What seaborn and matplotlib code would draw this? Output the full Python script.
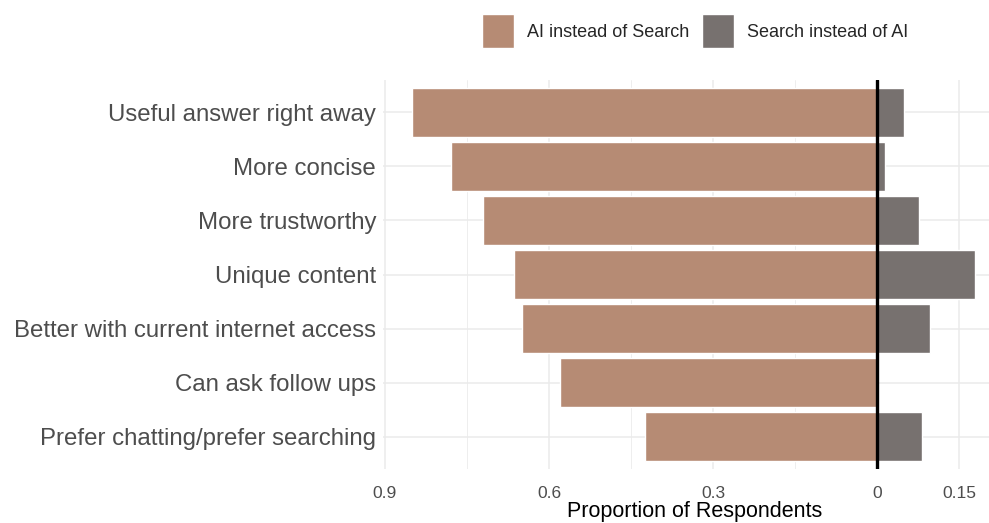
import pandas as pd
import seaborn as sns
import matplotlib.pyplot as plt
from matplotlib.patches import Patch

# Reasons (top to bottom) and proportions
reasons = [
    "Useful answer right away",
    "More concise",
    "More trustworthy",
    "Unique content",
    "Better with current internet access",
    "Can ask follow ups",
    "Prefer chatting/prefer searching",
]
ai_instead_of_search = [0.85, 0.78, 0.72, 0.664, 0.65, 0.58, 0.424]
search_instead_of_ai = [0.05, 0.015, 0.077, 0.18, 0.097, 0.0, 0.083]

series_names = ["AI instead of Search", "Search instead of AI"]
colors = {"AI instead of Search": "#B68B74", "Search instead of AI": "#77716F"}

tick_pos = [-0.9, -0.6, -0.3, 0, 0.15]
tick_labels = ["0.9", "0.6", "0.3", "0", "0.15"]

# Long table, AI side plotted as negative values
df = pd.concat([
    pd.DataFrame({"reason": reasons, "value": [-v for v in ai_instead_of_search],
                  "direction": series_names[0]}),
    pd.DataFrame({"reason": reasons, "value": search_instead_of_ai,
                  "direction": series_names[1]}),
])

sns.set_style("white")
plt.rcParams['font.family'] = ['Liberation Sans', 'DejaVu Sans']

fig = plt.figure(figsize=(9.89, 5.23), dpi=100)
ax = fig.add_axes([383 / 989, 1 - 469 / 523, 606 / 989, (469 - 80) / 523])

sns.barplot(data=df, y="reason", x="value", hue="direction", order=reasons,
            hue_order=series_names, palette=colors, dodge=False, width=0.9,
            saturation=1, legend=False, ax=ax, zorder=2)

# gridlines like ggplot minimal
for x in tick_pos:
    ax.axvline(x, color="#EBEBEB", lw=1.1, zorder=0)
for x in [-0.75, -0.45, -0.15]:
    ax.axvline(x, color="#EBEBEB", lw=0.6, zorder=0)
for y in range(len(reasons)):
    ax.axhline(y, color="#EBEBEB", lw=1.1, zorder=0)

ax.axvline(0, color="black", lw=2.4, zorder=3)

ax.set_xlim(-0.9036, 0.205)
ax.set_ylim(len(reasons) - 0.4, -0.6)
ax.set_xticks(tick_pos)
ax.set_xticklabels(tick_labels, fontsize=12.5, color="#4D4D4D")
ax.tick_params(axis="y", labelsize=17.3, labelcolor="#4D4D4D", length=0, pad=5)
ax.tick_params(axis="x", length=0, pad=12)
ax.set_ylabel("")
ax.set_xlabel("Proportion of Respondents", fontsize=15.5, color="black")
ax.xaxis.set_label_coords(0.515, -0.083)
sns.despine(ax=ax, left=True, bottom=True, top=True, right=True)

handles = [Patch(facecolor=colors[n], label=n) for n in series_names]
fig.legend(handles=handles, loc="center", bbox_to_anchor=(695 / 989, 1 - 31 / 523),
           ncol=2, frameon=False, fontsize=13, handlelength=1.8, handleheight=2.5,
           handletextpad=0.7, columnspacing=0.7)

fig.savefig("out.png", dpi=100)
